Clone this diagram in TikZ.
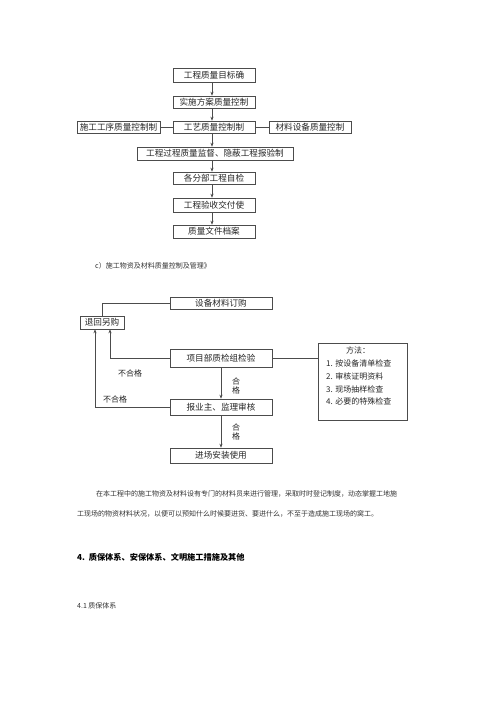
\documentclass[tikz,border=0pt]{standalone}
\usepackage{fontspec}
\newfontfamily\cjk{Noto Sans CJK SC}
\usetikzlibrary{arrows.meta}
\begin{document}
\begin{tikzpicture}[x=1pt,y=-1pt,
  box/.style={draw=black!70,line width=0.6pt,inner sep=0pt,font=\cjk\fontsize{8.6}{9}\selectfont,text=black!85},
  conn/.style={draw=black!70,line width=0.6pt},
  arr/.style={conn,-{Stealth[length=4pt,width=3.2pt]}},
  lbl/.style={font=\cjk\fontsize{8}{8.5}\selectfont,text=black!85,inner sep=0pt},
  body/.style={font=\cjk\fontsize{7}{8}\selectfont,text=black!80,inner sep=0pt,anchor=west}]
\useasboundingbox (0,0) rectangle (500,707);
\fill[white] (0,0) rectangle (500,707);
% top chart
\node[box,minimum width=82,minimum height=14] (b1) at (214,75) {工程质量目标确};
\node[box,minimum width=82,minimum height=12] (b2) at (214,102) {实施方案质量控制};
\node[box,minimum width=82,minimum height=12] (b3) at (214,127) {工艺质量控制制};
\node[box,minimum width=83,minimum height=12] (bl) at (118.5,127) {施工工序质量控制制};
\node[box,minimum width=82,minimum height=12] (br) at (310,127) {材料设备质量控制};
\node[box,minimum width=156,minimum height=13] (b4) at (215,153.5) {工程过程质量监督、隐蔽工程报验制};
\node[box,minimum width=82,minimum height=12] (b5) at (214,178) {各分部工程自检};
\node[box,minimum width=82,minimum height=14] (b6) at (214,205) {工程验收交付使};
\node[box,minimum width=82,minimum height=13] (b7) at (214,231.5) {质量文件档案};
\draw[arr] ([xshift=-2pt]b1.south) -- ([xshift=-2pt]b2.north);
\draw[arr] ([xshift=-2pt]b2.south) -- ([xshift=-2pt]b3.north);
\draw[arr] ([xshift=-2pt]b3.south) -- ([xshift=-3pt]b4.north);
\draw[arr] ([xshift=-3pt]b4.south) -- ([xshift=-2pt]b5.north);
\draw[arr] ([xshift=-2pt]b5.south) -- ([xshift=-2pt]b6.north);
\draw[arr] ([xshift=-2pt]b6.south) -- ([xshift=-2pt]b7.north);
\draw[conn] (bl.east) -- (b3.west);
\draw[conn] (b3.east) -- (br.west);
% caption
\node[body] (cap) at (95,266) {c）施工物资及材料质量控制及管理》};
% second chart
\node[box,minimum width=102,minimum height=12] (s1) at (221,303) {设备材料订购};
\node[box,minimum width=44,minimum height=13] (s2) at (102,322.5) {退回另购};
\node[box,minimum width=102,minimum height=18] (s3) at (221,358) {项目部质检组检验};
\node[box,minimum width=102,minimum height=16] (s4) at (221,407) {报业主、监理审核};
\node[box,minimum width=102,minimum height=15] (s5) at (221,455.5) {进场安装使用};
\node[box,minimum width=89,minimum height=77] (m) at (362.5,381.5) {};
\node[lbl] (mt) at (358,350.5) {方法：};
\node[lbl,anchor=west] (m1) at (326,363.5) {1. 按设备清单检查};
\node[lbl,anchor=west] (m2) at (326,376.5) {2. 审核证明资料};
\node[lbl,anchor=west] (m3) at (326,389) {3. 现场抽样检查};
\node[lbl,anchor=west] (m4) at (326,401.5) {4. 必要的特殊检查};
\draw[conn] (s2.north) |- (s1.west);
\draw[arr] (s3.west) -| ([xshift=8pt]s2.south);
\draw[arr] (s4.west) -| ([xshift=-7pt]s2.south);
\draw[arr] (s3.south) -- (s4.north);
\draw[arr] (s4.south) -- (s5.north);
\draw[conn] (s3.east) -- (s3.east -| m.west);
\node[lbl] (n1) at (130,373) {不合格};
\node[lbl] (n2) at (115,399) {不合格};
\node[lbl,align=center,font=\cjk\fontsize{8}{9}\selectfont] (h1) at (236,386) {合\\格};
\node[lbl,align=center,font=\cjk\fontsize{8}{9}\selectfont] (h2) at (236,432) {合\\格};
% body text
\node[body] (p1) at (96,494) {在本工程中的施工物资及材料设有专门的材料员来进行管理，采取时时登记制度，动态掌握工地施};
\node[body] (p2) at (77,514) {工现场的物资材料状况，以便可以预知什么时候要进货、要进什么，不至于造成施工现场的窝工。};
\node[body,font=\cjk\bfseries\fontsize{8.2}{9}\selectfont,text=black] (hd) at (77,557) {4.\ \ 质保体系、安保体系、文明施工措施及其他};
\node[body] (sub) at (77,606) {4.1 质保体系};
\end{tikzpicture}
\end{document}
